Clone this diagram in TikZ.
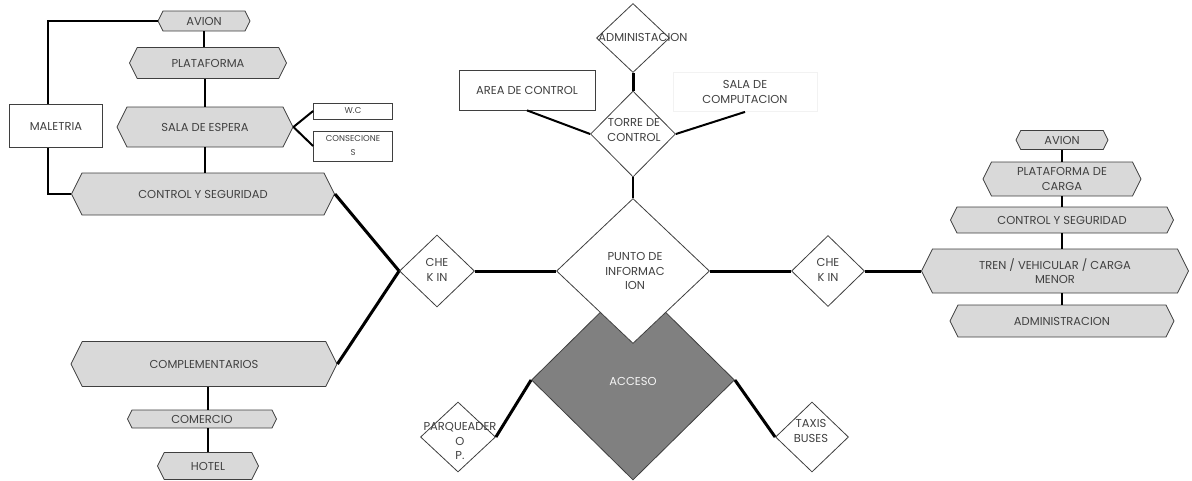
\documentclass[tikz,border=0pt]{standalone}
\usepackage{fontspec}
\setmainfont{Poppins}
\usetikzlibrary{shapes.geometric,shapes.symbols}
\definecolor{boxGray}{HTML}{D9D9D9}
\definecolor{edgeGray}{HTML}{3F3F3F}
\definecolor{accGray}{HTML}{808080}
\definecolor{txtGray}{HTML}{404040}
\tikzset{
  lbl/.style={font=\fontsize{11.5}{14.5}\selectfont, text=txtGray, align=center, inner sep=0pt},
  small/.style={lbl, font=\fontsize{8.5}{14}\selectfont},
  hexa/.style 2 args={shape=signal, signal to=west and east, signal pointer angle=127,
    draw=edgeGray, fill=boxGray, line width=0.8pt, minimum width=#1, minimum height=#2,
    inner sep=0pt, lbl},
  dia/.style 2 args={shape=diamond, draw=edgeGray, fill=white, line width=0.8pt,
    minimum width=#1, minimum height=#2, inner sep=0pt},
  boxw/.style 2 args={draw=edgeGray, fill=white, line width=0.8pt, inner sep=0pt,
    minimum width=#1, minimum height=#2, lbl},
  con/.style={line width=2pt, black},
  bold/.style={line width=3pt, black}
}

\begin{document}
\begin{tikzpicture}[x=1pt,y=-1pt]
  \useasboundingbox (0,0) rectangle (1192,480);
  % left stack
  \node[hexa={92}{20}] (avL) at (204,21) {AVION};
  \node[hexa={157}{31}] (plL) at (208,63) {PLATAFORMA};
  \node[hexa={176}{40}] (salL) at (205,127) {SALA DE ESPERA};
  \node[hexa={263}{42}] (csL) at (203,194) {CONTROL Y SEGURIDAD};
  \node[boxw={93}{43}] (mal) at (56,126) {MALETRIA};
  \node[boxw={79}{16}, small] (wc) at (353,111) {W.C};
  \node[boxw={79}{30}, small] (cons) at (353,146) {CONSECIONE\\S};
  \node[hexa={266}{45}] (comp) at (204,364) {COMPLEMENTARIOS};
  \node[hexa={149}{18}] (com) at (202,419) {COMERCIO};
  \node[hexa={101}{27}] (hot) at (208,466) {HOTEL};
  % right stack
  \foreach \y/\w/\h/\n/\t in {140/92/19/avR/AVION, 179/158/34/plR/{PLATAFORMA DE\\CARGA},
      220/223/26/csR/CONTROL Y SEGURIDAD, 321/224/32/adR/ADMINISTRACION}{
    \node[hexa={\w}{\h}] (\n) at (1062,\y) {\t};
  }
  \node[hexa={267}{44}] (tren) at (1055,271) {TREN / VEHICULAR / CARGA\\MENOR};
  % center
  \node[dia={203}{200}, fill=accGray] (acc) at (633,380) {};
  \node[lbl, text=white!92!gray] (accT) at (633,381) {ACCESO};
  \node[dia={153}{145}] (pun) at (633,271) {};
  \node[lbl] (punT) at (635,271) {PUNTO DE\\INFORMAC\\ION};
  \node[dia={85}{86}] (torre) at (633,134) {};
  \node[lbl] (torreT) at (634,130) {TORRE DE\\CONTROL};
  \node[dia={73}{69}] (adm) at (633,38) {};
  \node[lbl] (admT) at (643,37) {ADMINISTACION};
  \node[boxw={136}{40}] (area) at (527,90) {AREA DE CONTROL};
  \node[boxw={144}{39}, draw=gray!10] (sc) at (745,92) {SALA DE\\COMPUTACION};
  \node[dia={75}{72}] (chkL) at (437,271) {};
  \node[lbl] (chkLT) at (437,270) {CHE\\K IN};
  \node[dia={73}{71}] (chkR) at (828,271) {};
  \node[lbl] (chkRT) at (828,270) {CHE\\K IN};
  \node[dia={75}{70}] (parq) at (458,437) {};
  \node[lbl] (parqT) at (460,441) {PARQUEADER\\O\\P.};
  \node[dia={73}{70}] (taxi) at (812,437) {};
  \node[lbl] (taxiT) at (811,431) {TAXIS\\BUSES};
  % connectors
  \draw[con] (avL.west) -| ([xshift=-8]mal.north);
  \draw[con] ([xshift=-8]mal.south) |- (csL.west);
  \draw[con] (avL.south) -- (avL.south |- plL.north);
  \draw[con] (salL.north) -- (salL.north |- plL.south);
  \draw[con] (salL.south) -- (salL.south |- csL.north);
  \draw[con] (salL.east) -- (wc.west);
  \draw[con] (salL.east) -- (cons.west);
  \draw[bold] (csL.east) -- (chkL.west);
  \draw[bold] (comp.east) -- (chkL.west);
  \draw[con] (hot.north |- com.north) -- (hot.north |- comp.south);
  \draw[con] (hot.north) -- (hot.north |- com.south);
  \draw[bold] (chkL.east) -- (pun.west);
  \draw[bold] (pun.east) -- (chkR.west);
  \draw[bold] (chkR.east) -- (tren.west);
  \draw[con] (avR.south) -- (plR.north);
  \draw[con] (plR.south) -- (csR.north);
  \draw[con] (csR.south) -- (csR.south |- tren.north);
  \draw[con] (adR.north |- tren.south) -- (adR.north);
  \draw[bold] (adm.south) -- (torre.north);
  \draw[con] (torre.south) -- (pun.north);
  \draw[con] (area.south) -- (torre.west);
  \draw[con] (torre.east) -- (sc.south);
  \draw[bold] (acc.west) -- (parq.east);
  \draw[bold] (acc.east) -- (taxi.west);
\end{tikzpicture}
\end{document}
